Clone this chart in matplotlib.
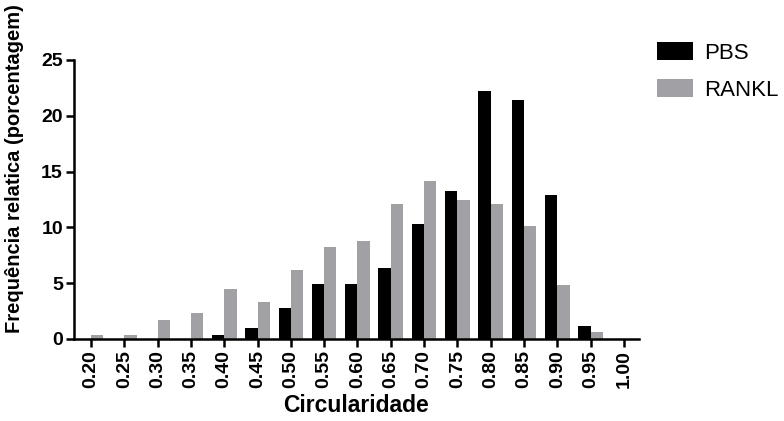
import numpy as np
import matplotlib.pyplot as plt
from matplotlib.patches import Patch

# Data
categories = ["0.20", "0.25", "0.30", "0.35", "0.40", "0.45", "0.50", "0.55", "0.60",
              "0.65", "0.70", "0.75", "0.80", "0.85", "0.90", "0.95", "1.00"]
pbs = [0, 0, 0, 0, 0.36, 1.0, 2.75, 4.9, 4.9,
       6.4, 10.3, 13.3, 22.2, 21.4, 12.9, 1.2, 0]
rankl = [0.33, 0.33, 1.65, 2.3, 4.5, 3.35, 6.2, 8.2, 8.75,
         12.1, 14.15, 12.45, 12.1, 10.1, 4.85, 0.65, 0]

plt.rcParams["font.family"] = ["Liberation Sans", "DejaVu Sans"]

fig = plt.figure(figsize=(7.84, 4.21), dpi=100)
ax = fig.add_axes([0.0944, 0.195, 0.7206, 0.6625])

x = np.arange(len(categories))
w = 0.37
black = "#000000"
gray = "#a1a1a5"
ax.bar(x - w / 2, pbs, width=w, color=black, label="PBS")
ax.bar(x + w / 2, rankl, width=w, color=gray, label="RANKL")

ax.set_xlim(-0.51, 16.45)
ax.set_ylim(0, 25)
ax.set_yticks([0, 5, 10, 15, 20, 25])
ax.set_xticks(x)
ax.set_xticklabels(categories, rotation=90, fontweight="bold", fontsize=14)
for lbl in ax.get_yticklabels():
    lbl.set_fontweight("bold")
    lbl.set_fontsize(14)

for side in ["top", "right"]:
    ax.spines[side].set_visible(False)
for side in ["left", "bottom"]:
    ax.spines[side].set_linewidth(1.8)
ax.tick_params(axis="both", width=1.8, length=6, direction="out", pad=2)

ax.set_ylabel("Frequência relatica (porcentagem)", fontweight="bold", fontsize=14.5)
ax.yaxis.set_label_coords(-0.0885, 0.609)
ax.set_xlabel("Circularidade", fontweight="bold", fontsize=16.5, labelpad=4)

handles = [Patch(facecolor=black), Patch(facecolor=gray)]
fig.legend(handles, ["PBS", "RANKL"], loc="upper left", bbox_to_anchor=(0.838, 0.90),
           frameon=False, fontsize=16, handlelength=1.6, handleheight=0.85,
           handletextpad=0.5, labelspacing=0.7, borderaxespad=0, borderpad=0)

fig.savefig("out.png", dpi=100)
